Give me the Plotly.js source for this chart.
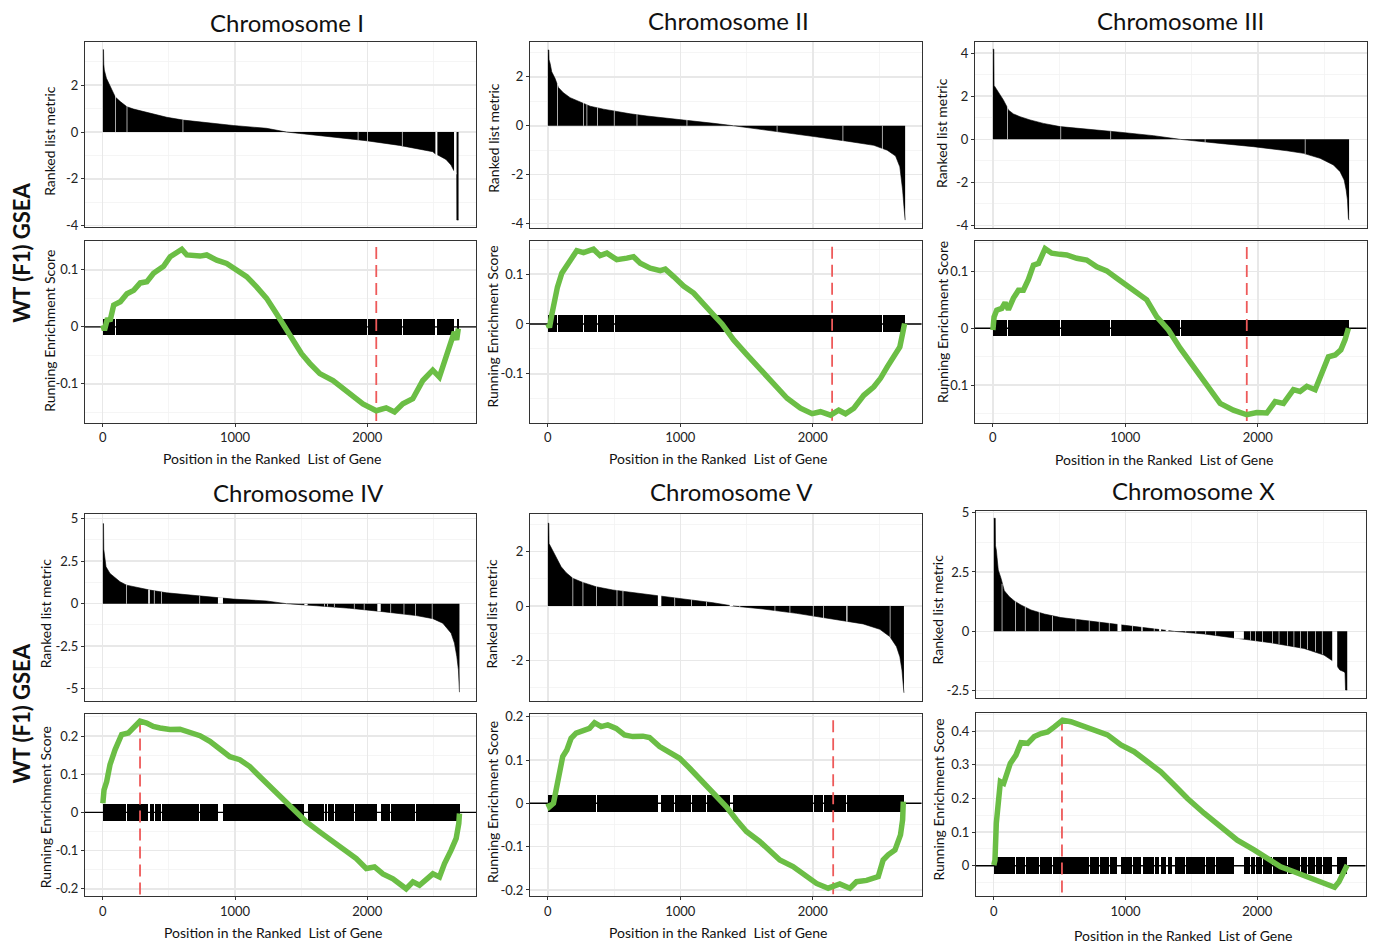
<!DOCTYPE html>
<html><head><meta charset="utf-8">
<script src="https://cdn.plot.ly/plotly-3.0.1.min.js"></script>
<style>html,body{margin:0;padding:0;background:#fff}#chart{width:1376px;height:946px}</style>
</head><body><div id="chart"></div>
<script>
// ---------------- DATA ----------------
const panelTitles = ["Chromosome I", "Chromosome II", "Chromosome III", "Chromosome IV", "Chromosome V", "Chromosome X"];
const rowLabel = "WT (F1) GSEA";
const xAxisTitle = "Position in the Ranked  List of Gene";
const metricTitle = "Ranked list metric";
const esTitle = "Running Enrichment Score";
const geneCount = [2690, 2697, 2689, 2697, 2688, 2682];

// Ranked list metric (gene position, value)
const metricX_I = [1,6,8,12,28,58,95,133,183,234,359,485,610,736,987,1239,1389,1490,1741,1992,2244,2495,2515,2533,2595,2633,2655,2676,2677,2690];
const metricY_I = [3.52,3.52,2.9,2.65,2.3,1.94,1.5,1.3,1.08,0.98,0.8,0.63,0.51,0.43,0.28,0.16,0.0,-0.06,-0.2,-0.37,-0.57,-0.84,-0.94,-0.98,-1.17,-1.41,-1.65,-1.75,-3.76,-3.76];
const metricX_II = [1,8,10,18,30,55,80,118,169,244,320,421,496,622,748,1000,1252,1403,1504,1756,2008,2259,2461,2562,2625,2657,2667,2678,2688,2697];
const metricY_II = [3.1,3.1,2.7,2.55,2.21,1.94,1.57,1.35,1.15,0.98,0.8,0.68,0.6,0.49,0.4,0.26,0.1,0.0,-0.07,-0.25,-0.44,-0.63,-0.8,-1.0,-1.24,-1.68,-2.09,-2.63,-3.3,-3.86];
const metricX_III = [1,8,10,20,35,55,80,106,118,156,206,282,382,508,709,961,1213,1414,1716,1967,2219,2345,2470,2571,2621,2652,2667,2677,2684,2689];
const metricY_III = [4.18,4.18,2.5,2.41,2.29,2.06,1.83,1.52,1.36,1.18,1.05,0.9,0.74,0.59,0.46,0.33,0.17,0.0,-0.19,-0.34,-0.53,-0.65,-0.88,-1.19,-1.5,-1.89,-2.35,-2.82,-3.67,-3.75];
const metricX_IV = [1,6,8,10,25,55,93,131,181,257,357,483,735,986,1238,1389,1615,1867,2118,2370,2496,2571,2634,2659,2677,2689,2697];
const metricY_IV = [4.71,4.71,3.2,3.05,2.17,1.78,1.54,1.29,1.09,0.96,0.8,0.64,0.45,0.27,0.16,0.0,-0.12,-0.27,-0.47,-0.7,-0.88,-1.15,-1.74,-2.32,-3.11,-3.89,-5.21];
const metricX_V = [1,8,10,18,38,63,101,139,189,264,365,491,743,995,1247,1398,1625,1877,2128,2380,2506,2582,2632,2657,2673,2683,2688];
const metricY_V = [3.05,3.05,2.3,2.22,2.07,1.8,1.45,1.23,1.02,0.87,0.71,0.59,0.44,0.28,0.12,0.0,-0.11,-0.27,-0.46,-0.66,-0.86,-1.13,-1.5,-1.87,-2.36,-2.86,-3.2];
const metricX_X = [1,12,14,20,35,56,81,119,157,207,283,384,510,712,965,1217,1369,1596,1848,2101,2354,2505,2581,2626,2657,2665,2669,2682];
const metricY_X = [4.76,4.76,3.6,3.43,2.58,2.23,1.71,1.46,1.28,1.11,0.9,0.73,0.58,0.45,0.28,0.13,0.0,-0.11,-0.29,-0.48,-0.72,-1.0,-1.28,-1.63,-1.7,-1.75,-2.47,-2.47];

// Running enrichment score (gene position, score)
const esX_I = [1,13,33,58,83,133,183,234,284,334,384,460,510,598,636,736,786,862,937,1013,1088,1163,1239,1314,1377,1440,1503,1565,1641,1741,1817,1892,1967,2068,2143,2206,2269,2344,2420,2495,2545,2595,2641,2658,2676,2688];
const esY_I = [0.003,-0.006,0.012,0.013,0.038,0.044,0.058,0.064,0.077,0.079,0.094,0.106,0.123,0.136,0.126,0.124,0.126,0.117,0.111,0.099,0.088,0.070,0.050,0.023,0.0,-0.023,-0.047,-0.064,-0.082,-0.094,-0.108,-0.123,-0.135,-0.147,-0.142,-0.149,-0.135,-0.126,-0.094,-0.076,-0.088,-0.053,-0.018,-0.009,-0.023,-0.003];
const esX_II = [1,13,30,48,73,106,144,181,219,270,345,395,446,521,597,647,698,773,849,887,950,1025,1101,1176,1252,1315,1403,1504,1605,1705,1806,1907,1995,2058,2134,2196,2247,2310,2385,2461,2511,2562,2612,2657,2678,2693];
const esY_II = [0.0,-0.007,0.018,0.048,0.074,0.102,0.115,0.132,0.147,0.143,0.150,0.137,0.142,0.129,0.132,0.135,0.122,0.112,0.107,0.110,0.095,0.076,0.062,0.042,0.018,0.0,-0.032,-0.062,-0.092,-0.119,-0.149,-0.169,-0.180,-0.176,-0.183,-0.173,-0.180,-0.169,-0.143,-0.126,-0.109,-0.086,-0.062,-0.046,-0.019,0.001];
const esX_III = [1,10,30,68,93,118,156,194,231,269,307,345,395,445,508,558,634,709,785,860,936,1011,1087,1162,1238,1326,1414,1514,1615,1716,1816,1917,1992,2068,2131,2194,2269,2319,2370,2433,2483,2533,2584,2627,2659,2684];
const esY_III = [-0.003,0.020,0.032,0.035,0.045,0.033,0.053,0.067,0.067,0.086,0.111,0.114,0.140,0.132,0.130,0.129,0.123,0.120,0.108,0.101,0.088,0.076,0.064,0.050,0.020,-0.003,-0.035,-0.067,-0.102,-0.132,-0.144,-0.152,-0.148,-0.149,-0.129,-0.132,-0.108,-0.111,-0.102,-0.108,-0.079,-0.050,-0.047,-0.038,-0.020,0.0];
const esX_IV = [1,10,30,55,93,118,143,194,231,282,332,382,433,508,584,659,735,810,886,961,1036,1112,1187,1263,1364,1439,1540,1640,1741,1842,1917,1992,2055,2118,2194,2294,2345,2395,2445,2496,2546,2584,2634,2672,2692,2697];
const esY_IV = [0.024,0.059,0.081,0.125,0.164,0.186,0.204,0.208,0.221,0.239,0.234,0.225,0.221,0.217,0.218,0.208,0.201,0.186,0.168,0.146,0.138,0.120,0.094,0.068,0.032,0.006,-0.025,-0.051,-0.077,-0.099,-0.121,-0.147,-0.143,-0.161,-0.174,-0.200,-0.182,-0.191,-0.174,-0.161,-0.169,-0.134,-0.099,-0.068,-0.029,-0.003];
const esX_V = [1,13,43,63,88,113,144,176,214,264,315,353,403,453,516,579,642,718,768,844,919,995,1071,1146,1222,1297,1348,1423,1499,1599,1675,1751,1851,1952,2028,2116,2204,2280,2330,2406,2494,2531,2569,2620,2662,2678,2683];
const esY_V = [0.0,-0.008,0.0,0.031,0.077,0.108,0.123,0.150,0.162,0.169,0.173,0.186,0.177,0.181,0.173,0.158,0.154,0.155,0.152,0.131,0.119,0.104,0.081,0.058,0.035,0.012,-0.008,-0.038,-0.065,-0.088,-0.108,-0.131,-0.146,-0.169,-0.185,-0.196,-0.186,-0.196,-0.181,-0.178,-0.169,-0.131,-0.119,-0.108,-0.073,-0.038,0.004];
const esX_X = [1,10,20,35,51,76,101,126,169,207,258,308,359,409,460,523,586,662,763,864,965,1066,1167,1268,1369,1470,1596,1722,1848,1975,2076,2177,2278,2379,2455,2530,2586,2619,2657,2682];
const esY_X = [0.002,0.017,0.126,0.175,0.250,0.245,0.275,0.304,0.329,0.366,0.364,0.384,0.393,0.398,0.413,0.433,0.428,0.418,0.403,0.389,0.359,0.339,0.309,0.279,0.240,0.200,0.156,0.116,0.076,0.047,0.022,-0.003,-0.018,-0.033,-0.048,-0.055,-0.064,-0.048,-0.018,0.002];

// Gaps (no gene-set hit): [start, end, metric depth at that place]
const gaps_I = [[93,98,1.55],[181,186,1.1],[604,609,0.53],[1928,1933,-0.34],[1998,2003,-0.39],[2262,2267,-0.6],[2515,2530,-1.0],[2656,2675,-1.8]];
const gaps_II = [[71,76,1.72],[268,273,0.95],[293,298,0.88],[373,378,0.75],[499,504,0.62],[671,676,0.47],[1048,1053,0.24],[1728,1733,-0.24],[2225,2230,-0.62],[2522,2527,-0.95]];
const gaps_III = [[109,114,1.5],[511,516,0.61],[888,893,0.37],[1412,1417,0.02],[1600,1605,-0.13],[2355,2360,-0.68]];
const gaps_IV = [[178,183,1.1],[344,356,0.84],[387,392,0.78],[442,447,0.7],[731,736,0.46],[871,909,0.38],[1524,1549,-0.09],[1673,1678,-0.16],[1698,1703,-0.17],[1748,1753,-0.2],[1899,1904,-0.3],[1974,1979,-0.36],[2076,2102,-0.46],[2175,2180,-0.53],[2275,2280,-0.63],[2363,2368,-0.71],[2488,2493,-0.9]];
const gaps_V = [[187,192,1.05],[263,268,0.9],[364,369,0.73],[520,525,0.59],[565,570,0.55],[831,857,0.41],[956,961,0.31],[1082,1087,0.23],[1195,1200,0.16],[1373,1398,0.04],[1447,1452,-0.04],[1712,1717,-0.18],[1825,1830,-0.25],[2001,2006,-0.38],[2077,2082,-0.44],[2253,2262,-0.58],[2581,2586,-1.16]];
const gaps_X = [[61,66,2.0],[162,167,1.27],[237,242,1.02],[343,348,0.82],[445,450,0.66],[621,626,0.52],[722,727,0.45],[798,803,0.4],[874,879,0.36],[939,969,0.31],[1051,1056,0.24],[1120,1130,0.2],[1215,1220,0.14],[1255,1270,0.11],[1305,1326,0.07],[1351,1376,0.03],[1455,1460,-0.05],[1531,1536,-0.09],[1606,1611,-0.12],[1682,1687,-0.18],[1823,1898,-0.31],[1947,1952,-0.38],[1985,1990,-0.41],[2036,2041,-0.45],[2112,2117,-0.5],[2162,2167,-0.54],[2225,2230,-0.6],[2275,2280,-0.65],[2326,2331,-0.7],[2377,2382,-0.75],[2440,2445,-0.85],[2490,2495,-0.96],[2568,2606,-1.5]];

// Rug half-heights (score units) and leading-edge markers
const rugHi = [0.014, 0.0175, 0.014, 0.023, 0.019, 0.026];
const rugLo = [-0.015, -0.017, -0.014, -0.022, -0.019, -0.025];
const peakPos = [2068, 2146, 1917, 282, 2154, 518];
const peakTop = [0.140, 0.155, 0.143, 0.241, 0.192, 0.438];

// Axis ranges and ticks
const xRange = [-134, 2822];
const xTicks = [0, 1000, 2000];
const xTickText = ["0", "1000", "2000"];
const xMinor = [500, 1500, 2500];
const metricRange = [[-4.07,3.86],[-4.17,3.44],[-4.10,4.53],[-5.71,5.26],[-3.49,3.38],[-2.82,5.08]];
const metricTicks = [[-4,-2,0,2],[-4,-2,0,2],[-4,-2,0,2,4],[-5,-2.5,0,2.5,5],[-2,0,2],[-2.5,0,2.5,5]];
const metricTickText = [["-4","-2","0","2"],["-4","-2","0","2"],["-4","-2","0","2","4"],["-5","-2.5","0","2.5","5"],["-2","0","2"],["-2.5","0","2.5","5"]];
const metricMinor = [[-3,-1,1,3],[-3,-1,1,3],[-3,-1,1,3],[-3.75,-1.25,1.25,3.75],[-3,-1,1,3],[-1.25,1.25,3.75]];
const esRange = [[-0.168,0.151],[-0.198,0.167],[-0.166,0.154],[-0.219,0.257],[-0.214,0.2055],[-0.090,0.455]];
const esTicks = [[-0.1,0,0.1],[-0.2,-0.1,0,0.1],[-0.1,0,0.1],[-0.2,-0.1,0,0.1,0.2],[-0.2,-0.1,0,0.1,0.2],[0,0.1,0.2,0.3,0.4]];
const esTickText = [["-0.1","0","0.1"],["-0.2","-0.1","0","0.1"],["-0.1","0","0.1"],["-0.2","-0.1","0","0.1","0.2"],["-0.2","-0.1","0","0.1","0.2"],["0","0.1","0.2","0.3","0.4"]];
const esMinor = [[-0.15,-0.05,0.05,0.15],[-0.15,-0.05,0.05,0.15],[-0.15,-0.05,0.05,0.15],[-0.15,-0.05,0.05,0.15,0.25],[-0.15,-0.05,0.05,0.15],[-0.05,0.05,0.15,0.25,0.35,0.45]];

// ---------------- LAYOUT GEOMETRY (pixels) ----------------
const W = 1376, H = 946;
const frames = [
  {x0:85, x1:476, t0:41.7, t1:227.3, e0:240.7, e1:422.7},
  {x0:530, x1:921.7, t0:41.7, t1:227.7, e0:240.7, e1:422.7},
  {x0:975, x1:1366.7, t0:41.7, t1:227.7, e0:240.7, e1:422.7},
  {x0:85, x1:476, t0:514.3, t1:700.7, e0:714.3, e1:896},
  {x0:530, x1:921.7, t0:514.3, t1:700.7, e0:714.3, e1:896},
  {x0:976, x1:1365.7, t0:510.7, t1:698.3, e0:712.7, e1:896}
];
const titlePos = [[287,22.5],[728,20.5],[1180,20.5],[298,492],[731.7,491.7],[1193,490]];
const metricLabPos = [[50,140.8],[493.3,137.5],[941.7,133.3],[45,613.3],[491.3,613.3],[937.2,609.2]];
const esLabPos = [[50,330.8],[492.8,326.7],[942.5,322.5],[45.8,807.5],[492.5,802.5],[937.5,800]];
const xLabPos = [[271.7,458.3],[717.5,458.3],[1163.7,459.3],[272.5,932.3],[717.8,932.3],[1182.5,935.7]];
const rowLabPos = [[21.3,252.5],[21.3,713.3]];

const metricX = [metricX_I, metricX_II, metricX_III, metricX_IV, metricX_V, metricX_X];
const metricY = [metricY_I, metricY_II, metricY_III, metricY_IV, metricY_V, metricY_X];
const esX = [esX_I, esX_II, esX_III, esX_IV, esX_V, esX_X];
const esY = [esY_I, esY_II, esY_III, esY_IV, esY_V, esY_X];
const gaps = [gaps_I, gaps_II, gaps_III, gaps_IV, gaps_V, gaps_X];

const FONT = "Lato, 'Open Sans', sans-serif";
const GREEN = "#6BBE45", RED = "#EE5A5A";
const GRID = "#E8E8E8", GRIDMINOR = "#F2F2F2";

const px = p => p / W;
const py = p => 1 - p / H;

const traces = [], annotations = [];
const layout = {
  width: W, height: H, margin: {l:0, r:0, t:0, b:0},
  paper_bgcolor: "#fff", plot_bgcolor: "#fff", showlegend: false,
  font: {family: FONT, color: "#222", size: 13}
};

for (let i = 0; i < 6; i++) {
  const f = frames[i];
  const nt = 2*i + 1, ne = 2*i + 2;
  const baseX = {
    range: xRange, domain: [px(f.x0), px(f.x1)], tickmode: "array", tickvals: xTicks, ticktext: xTickText,
    showgrid: true, gridcolor: GRID, gridwidth: 1.5, zeroline: false,
    minor: {tickmode: "array", tickvals: xMinor, showgrid: true, gridcolor: GRIDMINOR, gridwidth: 0.8, ticks: ""},
    showline: true, mirror: true, linecolor: "#333", linewidth: 1, fixedrange: true
  };
  layout["xaxis" + nt] = Object.assign({}, baseX, {anchor: "y" + nt, showticklabels: false, ticks: ""});
  layout["xaxis" + ne] = Object.assign({}, baseX, {anchor: "y" + ne, showticklabels: true, ticks: "outside",
    ticklen: 3, tickwidth: 1, tickcolor: "#333", tickfont: {family: FONT, size: 13, color: "#222"}});
  const baseY = {
    showgrid: true, gridcolor: GRID, gridwidth: 1.5, zeroline: false, tickmode: "array",
    showline: true, mirror: true, linecolor: "#333", linewidth: 1, ticks: "outside",
    ticklen: 3, tickwidth: 1, tickcolor: "#333", tickfont: {family: FONT, size: 13, color: "#222"}, fixedrange: true
  };
  layout["yaxis" + nt] = Object.assign({}, baseY, {anchor: "x" + nt, domain: [py(f.t1), py(f.t0)],
    range: metricRange[i], tickvals: metricTicks[i], ticktext: metricTickText[i],
    minor: {tickmode: "array", tickvals: metricMinor[i], showgrid: true, gridcolor: GRIDMINOR, gridwidth: 0.8, ticks: ""}});
  layout["yaxis" + ne] = Object.assign({}, baseY, {anchor: "x" + ne, domain: [py(f.e1), py(f.e0)],
    range: esRange[i], tickvals: esTicks[i], ticktext: esTickText[i],
    minor: {tickmode: "array", tickvals: esMinor[i], showgrid: true, gridcolor: GRIDMINOR, gridwidth: 0.8, ticks: ""}});

  // Ranked list metric (filled)
  traces.push({type: "scatter", mode: "lines", x: metricX[i], y: metricY[i], xaxis: "x" + nt, yaxis: "y" + nt,
    fill: "tozeroy", fillcolor: "#000", line: {color: "#000", width: 0.6}, hoverinfo: "skip"});
  // gaps in the metric (white slits)
  const gx = [], gy = [];
  gaps[i].forEach(g => { gx.push(g[0], g[1], g[1], g[0], g[0], null); gy.push(0, 0, g[2], g[2], 0, null); });
  traces.push({type: "scatter", mode: "lines", x: gx, y: gy, xaxis: "x" + nt, yaxis: "y" + nt,
    fill: "toself", fillcolor: "#fff", line: {color: "rgba(255,255,255,0)", width: 0}, hoverinfo: "skip"});

  // Rug of gene-set hits: runs between gaps
  const runs = [];
  let s = 0.5;
  gaps[i].forEach(g => { runs.push([s, g[0]]); s = g[1]; });
  runs.push([s, geneCount[i] + 0.5]);
  traces.push({type: "bar", x: runs.map(r => (r[0] + r[1]) / 2), width: runs.map(r => r[1] - r[0]),
    base: runs.map(() => rugLo[i]), y: runs.map(() => rugHi[i] - rugLo[i]),
    xaxis: "x" + ne, yaxis: "y" + ne, marker: {color: "#000", line: {width: 0}}, hoverinfo: "skip"});

  // Zero line across the panel
  traces.push({type: "scatter", mode: "lines", x: [xRange[0], xRange[1]], y: [0, 0],
    xaxis: "x" + ne, yaxis: "y" + ne, line: {color: "#000", width: 1.4}, hoverinfo: "skip"});

  // Leading-edge dashed marker
  traces.push({type: "scatter", mode: "lines", x: [peakPos[i], peakPos[i]], y: [peakTop[i], esRange[i][0]],
    xaxis: "x" + ne, yaxis: "y" + ne, line: {color: RED, width: 1.8, dash: "12px,6px"}, hoverinfo: "skip"});

  // Running enrichment score
  traces.push({type: "scatter", mode: "lines", x: esX[i], y: esY[i], xaxis: "x" + ne, yaxis: "y" + ne,
    line: {color: GREEN, width: 5.5, shape: "linear"}, hoverinfo: "skip"});

  // Texts
  annotations.push({text: panelTitles[i], xref: "paper", yref: "paper", x: px(titlePos[i][0]), y: py(titlePos[i][1]),
    xanchor: "center", yanchor: "middle", showarrow: false, font: {family: FONT, size: 24, color: "#111"}});
  annotations.push({text: metricTitle, xref: "paper", yref: "paper", x: px(metricLabPos[i][0]), y: py(metricLabPos[i][1]),
    xanchor: "center", yanchor: "middle", textangle: -90, showarrow: false, font: {family: FONT, size: 14, color: "#111"}});
  annotations.push({text: esTitle, xref: "paper", yref: "paper", x: px(esLabPos[i][0]), y: py(esLabPos[i][1]),
    xanchor: "center", yanchor: "middle", textangle: -90, showarrow: false, font: {family: FONT, size: 14, color: "#111"}});
  annotations.push({text: xAxisTitle, xref: "paper", yref: "paper", x: px(xLabPos[i][0]), y: py(xLabPos[i][1]),
    xanchor: "center", yanchor: "middle", showarrow: false, font: {family: FONT, size: 14, color: "#111"}});
}
rowLabPos.forEach(p => annotations.push({text: "<b>" + rowLabel + "</b>", xref: "paper", yref: "paper",
  x: px(p[0]), y: py(p[1]), xanchor: "center", yanchor: "middle", textangle: -90, showarrow: false,
  font: {family: FONT, size: 22, color: "#111"}}));

layout.annotations = annotations;
layout.bargap = 0;
Plotly.newPlot("chart", traces, layout, {staticPlot: true, displayModeBar: false});
</script>
</body></html>
